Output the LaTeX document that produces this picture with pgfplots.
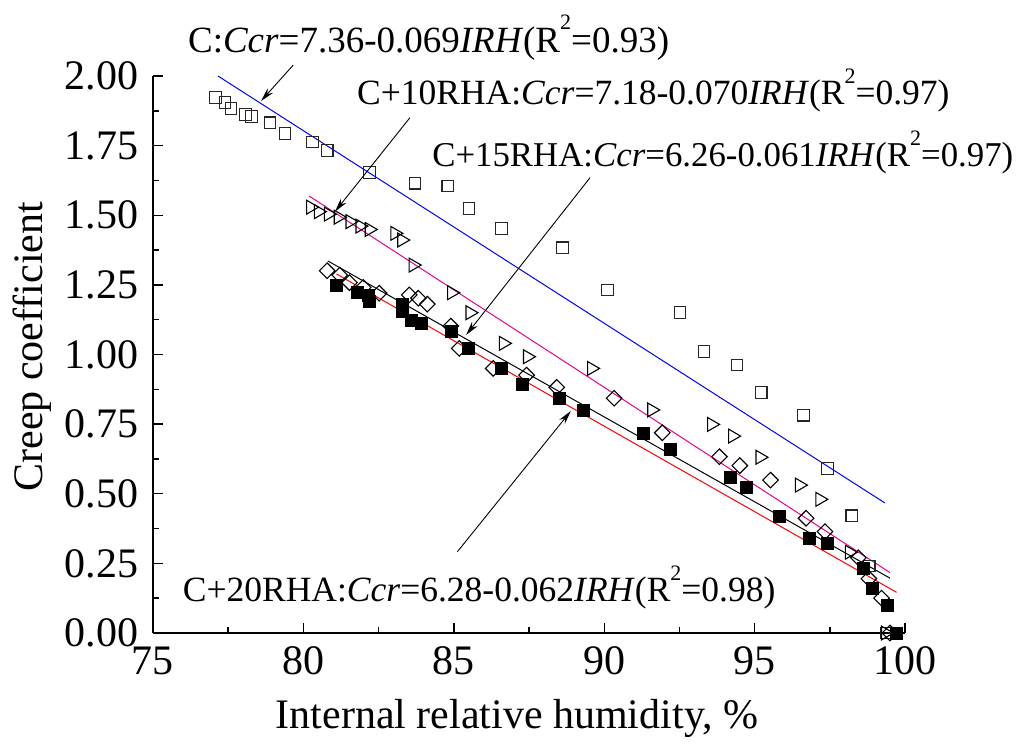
\documentclass[border=0pt]{standalone}
\usepackage{fontspec}
\setmainfont{Liberation Serif}
\usepackage{pgfplots}
\pgfplotsset{compat=1.18}
\usetikzlibrary{arrows.meta}

\newcommand{\sqr}{\raisebox{0.6em}{\fontsize{22}{22}\selectfont 2}}
\newcommand{\eqn}[4]{#1:\textit{Ccr}=#2-#3\textit{IRH}(R\sqr=#4)}

% open squares: C
\pgfplotstableread{
x y
77.08 1.923
77.39 1.904
77.59 1.884
78.08 1.862
78.28 1.854
78.89 1.832
79.39 1.794
80.30 1.763
80.79 1.733
82.19 1.653
83.71 1.615
84.80 1.605
85.51 1.525
86.59 1.452
88.61 1.383
90.11 1.232
92.52 1.151
93.32 1.011
94.41 0.962
95.22 0.863
96.62 0.782
97.43 0.591
98.23 0.421
98.81 0.241
99.39 0.000
}\dataC
% triangles: C+10RHA
\pgfplotstableread{
x y
80.24 1.529
80.50 1.513
80.83 1.504
81.16 1.493
81.55 1.477
81.88 1.461
82.19 1.449
83.04 1.435
83.27 1.411
83.65 1.321
84.93 1.222
85.54 1.150
86.65 1.040
87.45 0.992
89.58 0.950
91.58 0.801
93.57 0.749
94.27 0.707
95.18 0.631
96.49 0.531
97.17 0.480
98.15 0.290
99.35 0.000
}\dataA
% diamonds: C+15RHA
\pgfplotstableread{
x y
80.79 1.301
81.21 1.285
81.53 1.258
81.99 1.241
82.52 1.220
83.52 1.214
83.82 1.202
84.12 1.181
84.90 1.102
85.18 1.022
86.31 0.950
87.42 0.926
88.42 0.882
90.33 0.843
91.93 0.719
93.83 0.633
94.51 0.601
95.53 0.549
96.71 0.412
97.34 0.364
98.45 0.270
98.80 0.195
99.22 0.125
99.50 0.000
}\dataB
% filled squares: C+20RHA
\pgfplotstableread{
x y
81.08 1.250
81.79 1.222
82.16 1.214
82.19 1.193
83.30 1.181
83.30 1.154
83.60 1.124
83.90 1.112
84.90 1.082
85.48 1.022
86.59 0.950
87.29 0.892
88.50 0.843
89.31 0.801
91.30 0.719
92.21 0.661
94.20 0.561
94.71 0.522
95.81 0.421
96.82 0.340
97.42 0.322
98.62 0.232
98.91 0.160
99.42 0.100
99.72 0.000
}\dataD

\begin{document}
\begin{tikzpicture}
\useasboundingbox (-153pt,-116pt) rectangle (874pt,633pt);
\begin{axis}[
    scale only axis,
    width=752pt,
    height=557pt,
    xmin=75, xmax=100,
    ymin=0, ymax=2,
    axis x line=bottom,
    axis y line=left,
    axis line style={-, line width=1.6pt},
    tick align=inside,
    major tick length=10pt,
    minor tick length=6pt,
    every tick/.style={black, line width=1.4pt},
    xtick={75,80,...,100},
    ytick={0,0.25,...,2.0},
    minor x tick num=1,
    minor y tick num=1,
    ticklabel style={font=\fontsize{42}{50}\selectfont},
    /pgf/number format/assume math mode=true,
    yticklabel style={xshift=-11pt, /pgf/number format/fixed, /pgf/number format/fixed zerofill, /pgf/number format/precision=2},
    xticklabel style={yshift=-10pt},
    xlabel={Internal relative humidity, \%},
    ylabel={Creep coefficient},
    label style={font=\fontsize{42}{50}\selectfont},
    xlabel style={at={(axis description cs:0.484,-0.1706)}, anchor=base},
    ylabel style={at={(axis description cs:-0.1463,0.514)}, anchor=base},
    after end axis/.code={
        \node[anchor=base west, inner sep=0pt, font=\fontsize{37}{44}\selectfont] at (axis cs:76.16,2.086) {\eqn{C}{7.36}{0.069}{0.93}};
        \node[anchor=base west, inner sep=0pt, font=\fontsize{35.5}{42}\selectfont] at (axis cs:81.78,1.896) {\eqn{C+10RHA}{7.18}{0.070}{0.97}};
        \node[anchor=base west, inner sep=0pt, font=\fontsize{34.8}{42}\selectfont] at (axis cs:84.28,1.675) {\eqn{C+15RHA}{6.26}{0.061}{0.97}};
        \node[anchor=base west, inner sep=0pt, font=\fontsize{35.5}{42}\selectfont] at (axis cs:75.99,0.1127) {\eqn{C+20RHA}{6.28}{0.062}{0.98}};
        \begin{scope}[line width=0.9pt, -{Stealth[length=14pt,width=7pt]}]
        \draw (axis cs:79.66,2.039) -- (axis cs:78.59,1.910);
        \draw (axis cs:83.54,1.850) -- (axis cs:81.05,1.513);
        \draw (axis cs:89.53,1.635) -- (axis cs:85.41,1.070);
        \draw (axis cs:85.12,0.292) -- (axis cs:88.89,0.797);
        \end{scope}
    },
]
% fitted lines
\addplot[blue, line width=1pt] coordinates {(77.16,2.000) (99.33,0.467)};
\addplot[magenta, line width=1pt] coordinates {(80.19,1.569) (99.50,0.217)};
\addplot[black, line width=1pt] coordinates {(80.81,1.336) (99.50,0.197)};
\addplot[red, line width=1pt] coordinates {(81.10,1.289) (99.72,0.146)};
% measured points
\addplot[only marks, mark=square, mark size=5.8pt, mark options={draw=black!85, line width=1.1pt}] table {\dataC};
\addplot[only marks, mark=triangle, mark size=8pt, mark options={rotate=-90, draw=black, line width=1.1pt}] table {\dataA};
\addplot[only marks, mark=square, mark size=5.5pt, mark options={rotate=45, draw=black, fill=white, line width=1.1pt}] table {\dataB};
\addplot[only marks, mark=square*, mark size=6pt, mark options={draw=black, fill=black}] table {\dataD};
\end{axis}
\end{tikzpicture}
\end{document}
